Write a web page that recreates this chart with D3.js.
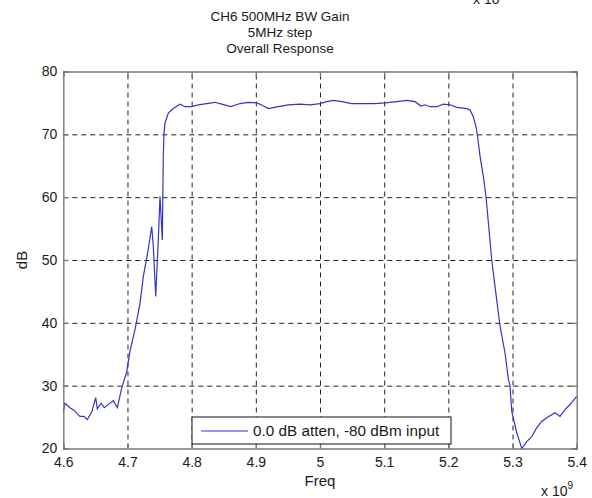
<!DOCTYPE html>
<html>
<head>
<script src="https://cdnjs.cloudflare.com/ajax/libs/d3/7.8.5/d3.min.js"></script>
<style>
  body { margin: 0; background: #fff; }
  text { font-family: "Liberation Sans", Arial, sans-serif; fill: #1a1a1a; }
  .grid line { stroke: #222; stroke-dasharray: 5,4; stroke-width: 1; }
  .grid path { display: none; }
  .frame path, .frame line { stroke: #7a7a7a; stroke-width: 1.4; }
</style>
</head>
<body>
<div id="vis"></div>
<script>
// frequency (GHz, axis shows x 10^9) and gain (dB)
const freq = [4.6000, 4.6026, 4.6104, 4.6167, 4.6218, 4.6260, 4.6323, 4.6374, 4.6443, 4.6505,
  4.6530, 4.6588, 4.6639, 4.6712, 4.6779, 4.6842, 4.6910, 4.6988, 4.7039, 4.7117,
  4.7195, 4.7247, 4.7309, 4.7378, 4.7403, 4.7440, 4.7480, 4.7507, 4.7543, 4.7558,
  4.7569, 4.7585, 4.7611, 4.7636, 4.7714, 4.7819, 4.7897, 4.8001, 4.8104, 4.8235,
  4.8364, 4.8468, 4.8609, 4.8754, 4.8883, 4.9014, 4.9107, 4.9195, 4.9351, 4.9506,
  4.9689, 4.9845, 5.0000, 5.0105, 5.0208, 5.0338, 5.0494, 5.0675, 5.0857, 5.1013,
  5.1196, 5.1351, 5.1481, 5.1574, 5.1637, 5.1715, 5.1819, 5.1922, 5.2026, 5.2131,
  5.2287, 5.2338, 5.2389, 5.2431, 5.2452, 5.2494, 5.2545, 5.2587, 5.2676, 5.2727,
  5.2805, 5.2883, 5.2935, 5.2961, 5.2988, 5.3066, 5.3144, 5.3222, 5.3300, 5.3377,
  5.3455, 5.3533, 5.3662, 5.3740, 5.3818, 5.3896, 5.4000];
const gain = [25.8, 27.2, 26.5, 26.1, 25.5, 25.1, 25.1, 24.6, 25.8, 28.1,
  26.3, 27.2, 26.5, 27.1, 27.6, 26.5, 29.6, 32.2, 35.5, 38.9,
  43.1, 47.4, 50.8, 55.3, 52.1, 44.2, 53.2, 60.1, 53.2, 66.5,
  70.2, 71.8, 72.6, 73.4, 74.1, 74.8, 74.4, 74.4, 74.7, 74.9,
  75.1, 74.8, 74.4, 74.9, 75.1, 75.0, 74.6, 74.1, 74.4, 74.7,
  74.8, 74.7, 74.9, 75.2, 75.4, 75.2, 74.9, 74.9, 74.9, 75.0,
  75.2, 75.4, 75.2, 74.5, 74.7, 74.4, 74.4, 74.8, 74.7, 74.3,
  74.1, 73.9, 72.8, 71.2, 69.9, 66.5, 63.3, 60.1, 50.0, 45.8,
  39.5, 35.2, 31.0, 30.0, 25.9, 22.5, 20.0, 21.1, 21.9, 23.3,
  24.3, 24.9, 25.7, 25.1, 26.2, 27.0, 28.3];
const xTicks = [4.6, 4.7, 4.8, 4.9, 5.0, 5.1, 5.2, 5.3, 5.4];
const yTicks = [20, 30, 40, 50, 60, 70, 80];
const titleLines = ["CH6 500MHz BW Gain", "5MHz step", "Overall Response"];
const legendLabel = "0.0 dB atten, -80 dBm input";

const W = 592, H = 498;
const mLeft = 63.3, mRight = 576.7, mTop = 71.5, mBottom = 448.5;

const svg = d3.select("#vis").append("svg")
    .attr("width", W).attr("height", H);

const x = d3.scaleLinear().domain([4.6, 5.4]).range([mLeft, mRight]);
const y = d3.scaleLinear().domain([20, 80]).range([mBottom, mTop]);
const fmt = d => String(+d.toFixed(1));

// grid
svg.append("g").attr("class", "grid")
    .attr("transform", `translate(0,${mBottom})`)
    .call(d3.axisBottom(x).tickValues(xTicks.slice(1, -1)).tickSize(-(mBottom - mTop)).tickFormat(""));
svg.append("g").attr("class", "grid")
    .attr("transform", `translate(${mLeft},0)`)
    .call(d3.axisLeft(y).tickValues(yTicks.slice(1, -1)).tickSize(-(mRight - mLeft)).tickFormat(""));

// curve
svg.append("path")
    .datum(freq.map((f, i) => [f, gain[i]]))
    .attr("fill", "none")
    .attr("stroke", "#3535c0")
    .attr("stroke-width", 1.2)
    .attr("d", d3.line().x(d => x(d[0])).y(d => y(d[1])));

// frame with inward ticks
svg.append("g").attr("class", "frame")
    .attr("transform", `translate(0,${mBottom})`)
    .call(d3.axisBottom(x).tickValues(xTicks).tickSize(-5).tickPadding(9).tickFormat(fmt));
svg.append("g").attr("class", "frame")
    .attr("transform", `translate(0,${mTop})`)
    .call(d3.axisTop(x).tickValues(xTicks).tickSize(-5).tickFormat(""));
svg.append("g").attr("class", "frame")
    .attr("transform", `translate(${mLeft},0)`)
    .call(d3.axisLeft(y).tickValues(yTicks).tickSize(-5).tickPadding(6));
svg.append("g").attr("class", "frame")
    .attr("transform", `translate(${mRight},0)`)
    .call(d3.axisRight(y).tickValues(yTicks).tickSize(-5).tickFormat(""));
svg.selectAll(".frame text")
    .style("font-family", '"Liberation Sans", Arial, sans-serif')
    .style("font-size", "14px").attr("fill", "#1a1a1a");

// titles
svg.selectAll("text.title").data(titleLines).join("text")
    .attr("class", "title")
    .attr("x", 280).attr("y", (d, i) => 21 + i * 16)
    .attr("text-anchor", "middle")
    .style("font-size", "13.5px")
    .text(d => d);

// axis labels
svg.append("text").attr("x", 320).attr("y", 486)
    .attr("text-anchor", "middle").style("font-size", "15px").text("Freq");
svg.append("text")
    .attr("transform", `translate(27,${(mTop + mBottom) / 2}) rotate(-90)`)
    .attr("text-anchor", "middle").style("font-size", "15px").text("dB");

// exponent labels
const e1 = svg.append("text").attr("x", 541).attr("y", 496).style("font-size", "14px");
e1.append("tspan").text("x 10");
e1.append("tspan").attr("dy", -7).style("font-size", "10px").text("9");
const e2 = svg.append("text").attr("x", 473).attr("y", 4).style("font-size", "14px");
e2.append("tspan").text("x 10");
e2.append("tspan").attr("dy", -7).style("font-size", "10px").text("9");

// legend
const lg = svg.append("g");
lg.append("rect").attr("x", 192).attr("y", 417).attr("width", 259).attr("height", 27)
    .attr("fill", "#fff").attr("stroke", "#111").attr("stroke-width", 1);
lg.append("line").attr("x1", 201).attr("x2", 248).attr("y1", 431).attr("y2", 431)
    .attr("stroke", "#3535c0").attr("stroke-width", 1.2);
lg.append("text").attr("x", 253).attr("y", 436).style("font-size", "15.3px").text(legendLabel);
</script>
</body>
</html>
